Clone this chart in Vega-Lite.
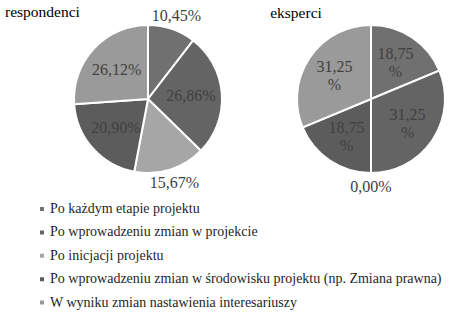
{
  "$schema": "https://vega.github.io/schema/vega-lite/v6.json",
  "padding": {"top": 5, "left": 0, "right": 0, "bottom": 0},
  "background": "white",
  "bounds": "flush",
  "datasets": {
    "resp": [
      {"n": 1, "k": "Po każdym etapie projektu", "v": 10.45},
      {"n": 2, "k": "Po wprowadzeniu zmian w projekcie", "v": 26.86},
      {"n": 3, "k": "Po inicjacji projektu", "v": 15.67},
      {"n": 4, "k": "Po wprowadzeniu zmian w środowisku projektu (np. Zmiana prawna)", "v": 20.90},
      {"n": 5, "k": "W wyniku zmian nastawienia interesariuszy", "v": 26.12}
    ],
    "eksp": [
      {"n": 1, "k": "Po każdym etapie projektu", "v": 18.75},
      {"n": 2, "k": "Po wprowadzeniu zmian w projekcie", "v": 31.25},
      {"n": 3, "k": "Po inicjacji projektu", "v": 0},
      {"n": 4, "k": "Po wprowadzeniu zmian w środowisku projektu (np. Zmiana prawna)", "v": 18.75},
      {"n": 5, "k": "W wyniku zmian nastawienia interesariuszy", "v": 31.25}
    ]
  },
  "hconcat": [
    {
      "data": {"name": "resp"},
      "width": 296,
      "height": 156,
      "title": {"text": "respondenci", "anchor": "start", "frame": "group", "dx": 5, "dy": 15},
      "encoding": {
        "theta": {"field": "v", "type": "quantitative", "stack": true},
        "order": {"field": "n", "type": "quantitative"}
      },
      "layer": [
        {
          "mark": {"type": "arc", "radius": 74, "stroke": "white", "strokeWidth": 2},
          "encoding": {
            "color": {
              "field": "k",
              "type": "nominal",
              "scale": {
                "domain": ["Po każdym etapie projektu", "Po wprowadzeniu zmian w projekcie", "Po inicjacji projektu", "Po wprowadzeniu zmian w środowisku projektu (np. Zmiana prawna)", "W wyniku zmian nastawienia interesariuszy"],
                "range": ["#707070", "#646464", "#a6a6a6", "#5c5c5c", "#9a9a9a"]
              },
              "legend": {
                "orient": "none",
                "legendX": 35,
                "legendY": 181,
                "title": null,
                "direction": "vertical",
                "symbolType": "square",
                "symbolSize": 30,
                "labelFont": "Liberation Serif",
                "labelFontSize": 14,
                "labelColor": "#262626",
                "rowPadding": 9.4,
                "labelOffset": 1,
                "labelLimit": 500,
                "padding": 0
              }
            }
          }
        },
        {
          "mark": {"type": "text", "radius": 43, "font": "Liberation Serif", "fontSize": 16, "fill": "#404040"},
          "encoding": {
            "detail": {"field": "k"},
            "text": {"condition": {"test": "datum.v >= 17", "field": "v", "type": "quantitative", "format": "$.2f"}, "value": ""}
          }
        },
        {
          "mark": {"type": "text", "radius": 88, "font": "Liberation Serif", "fontSize": 16, "fill": "#404040"},
          "encoding": {
            "detail": {"field": "k"},
            "text": {"condition": {"test": "datum.v < 17", "field": "v", "type": "quantitative", "format": "$.2f"}, "value": ""}
          }
        }
      ]
    },
    {
      "data": {"name": "eksp"},
      "width": 150,
      "height": 156,
      "title": {"text": "eksperci", "anchor": "start", "align": "center", "frame": "group", "dy": 6},
      "encoding": {
        "theta": {"field": "v", "type": "quantitative", "stack": true},
        "order": {"field": "n", "type": "quantitative"}
      },
      "layer": [
        {
          "mark": {"type": "arc", "radius": 74, "stroke": "white", "strokeWidth": 2},
          "encoding": {
            "color": {"field": "k", "type": "nominal"}
          }
        },
        {
          "mark": {"type": "text", "radius": 44, "dy": -8, "font": "Liberation Serif", "fontSize": 16, "fill": "#404040"},
          "encoding": {
            "detail": {"field": "k"},
            "text": {"condition": {"test": "datum.v >= 17", "field": "v", "type": "quantitative", "format": ".2f"}, "value": ""}
          }
        },
        {
          "mark": {"type": "text", "radius": 44, "dy": 10, "font": "Liberation Serif", "fontSize": 16, "fill": "#404040"},
          "encoding": {
            "detail": {"field": "k"},
            "text": {"condition": {"test": "datum.v >= 17", "value": "%"}, "value": ""}
          }
        },
        {
          "mark": {"type": "text", "radius": 88, "font": "Liberation Serif", "fontSize": 16, "fill": "#404040"},
          "encoding": {
            "detail": {"field": "k"},
            "text": {"condition": {"test": "datum.v < 17", "field": "v", "type": "quantitative", "format": "$.2f"}, "value": ""}
          }
        }
      ]
    }
  ],
  "spacing": 0,
  "resolve": {"scale": {"theta": "independent"}},
  "config": {
    "locale": {"number": {"decimal": ",", "thousands": " ", "grouping": [3], "currency": ["", "%"]}},
    "view": {"stroke": null},
    "title": {"font": "Liberation Serif", "fontSize": 15.5, "fontWeight": "normal", "color": "#000000", "offset": 2},
    "text": {"font": "Liberation Serif"}
  }
}
